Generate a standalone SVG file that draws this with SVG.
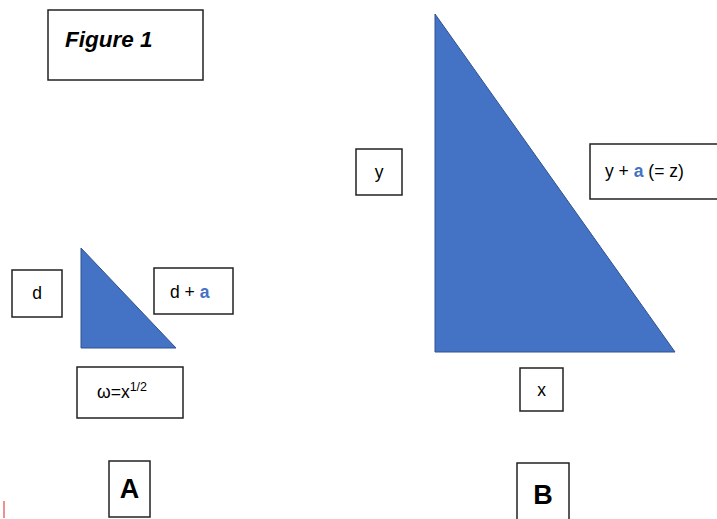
<svg xmlns="http://www.w3.org/2000/svg" width="717" height="519" viewBox="0 0 717 519">
<style>
.box{fill:#fff;stroke:#222;stroke-width:1.5}
.tri{fill:#4472C4;stroke:#2F528F;stroke-width:1}
.t{font-family:"Liberation Sans",Arial,sans-serif;font-size:17.5px;fill:#000}
.a{fill:#4472C4;font-weight:bold}
.big{font-family:"Liberation Sans",Arial,sans-serif;font-weight:bold;font-size:27px;fill:#000}
</style>
<rect width="717" height="519" fill="#fff"/>
<g id="title">
<rect class="box" x="48" y="10" width="155" height="70"/>
<text x="65" y="47" font-family="Liberation Sans,Arial,sans-serif" font-weight="bold" font-style="italic" font-size="22.5">Figure 1</text>
</g>
<g id="triA"><polygon class="tri" points="81,248 81,348 176,348"/></g>
<g id="triB"><polygon class="tri" points="435,14 435,352 675,352"/></g>
<g id="d"><rect class="box" x="12" y="270" width="50" height="47"/><text class="t" x="37" y="299" text-anchor="middle">d</text></g>
<g id="dpa"><rect class="box" x="154" y="268" width="79" height="46"/><text class="t" x="170" y="298">d + <tspan class="a">a</tspan></text></g>
<g id="omega"><rect class="box" x="77" y="367" width="106" height="51"/><text class="t" x="97" y="398" font-family="Liberation Serif,serif">ω<tspan font-family="Liberation Sans,Arial,sans-serif">=x</tspan><tspan font-family="Liberation Sans,Arial,sans-serif" font-size="12.5" dy="-7">1/2</tspan></text></g>
<g id="A"><rect class="box" x="109" y="461" width="41" height="56"/><text class="big" x="129.5" y="498" text-anchor="middle">A</text></g>
<g id="y"><rect class="box" x="356" y="149" width="46" height="46"/><text class="t" x="379" y="178" text-anchor="middle">y</text></g>
<g id="ypa"><rect class="box" x="590" y="144" width="130" height="55"/><text class="t" x="605" y="177">y + <tspan class="a">a</tspan> (= z)</text></g>
<g id="x"><rect class="box" x="520" y="368" width="43" height="43"/><text class="t" x="541.5" y="396" text-anchor="middle">x</text></g>
<g id="B"><rect class="box" x="517" y="463" width="52" height="60"/><text class="big" x="543" y="504" text-anchor="middle" font-size="29">B</text></g>
<g id="connectors"></g>
<line x1="4" y1="501" x2="4" y2="518" stroke="#e02020" stroke-width="1"/>
</svg>
